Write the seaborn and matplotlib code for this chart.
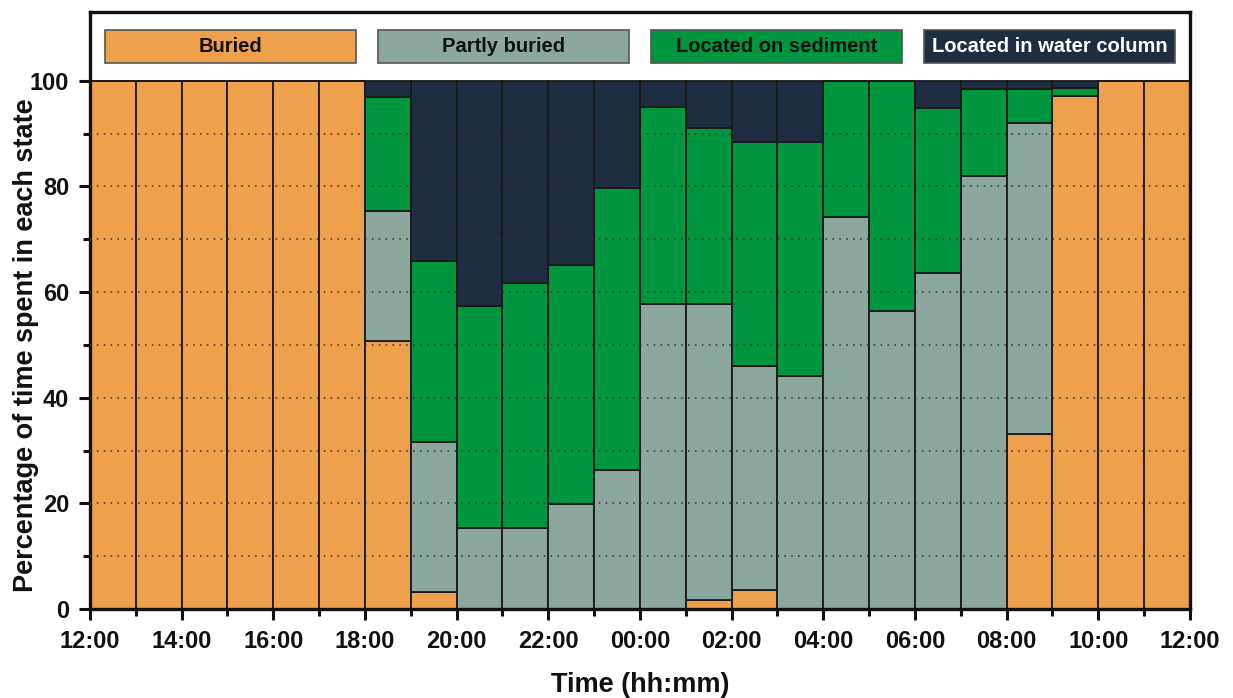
import numpy as np
import pandas as pd
import matplotlib
matplotlib.use("Agg")
import matplotlib.pyplot as plt
from matplotlib.patches import Rectangle
from matplotlib.ticker import MultipleLocator, FixedLocator
import seaborn as sns

# Hourly time budget, one bar per hour starting at 12:00
hours = list(range(24))
hour_labels = ["12:00", "14:00", "16:00", "18:00", "20:00", "22:00", "00:00",
               "02:00", "04:00", "06:00", "08:00", "10:00", "12:00"]

buried = [100, 100, 100, 100, 100, 100, 50.8, 3.2, 0, 0, 0, 0,
          0, 1.7, 3.6, 0, 0, 0, 0, 0, 33.2, 97.2, 100, 100]
partly_buried = [0, 0, 0, 0, 0, 0, 24.6, 28.5, 15.3, 15.3, 19.9, 26.3,
                 57.8, 56.1, 42.5, 44.1, 74.2, 56.5, 63.6, 82.0, 58.8, 0, 0, 0]
on_sediment = [0, 0, 0, 0, 0, 0, 21.5, 34.2, 42.1, 46.5, 45.3, 53.5,
               37.3, 33.3, 42.3, 44.3, 25.8, 43.5, 31.3, 16.5, 6.5, 1.4, 0, 0]
water_column = [0, 0, 0, 0, 0, 0, 3.1, 34.1, 42.6, 38.2, 34.8, 20.2,
                4.9, 8.9, 11.6, 11.6, 0, 0, 5.1, 1.5, 1.5, 1.4, 0, 0]

states = ["Buried", "Partly buried", "Located on sediment", "Located in water column"]
colors = ["#EEA04C", "#8CA79E", "#00953F", "#1E2D40"]
text_colors = ["#111111", "#111111", "#111111", "#FFFFFF"]

df = pd.concat([
    pd.DataFrame({"hour": [h + 0.5 for h in hours], "state": s, "pct": v})
    for s, v in zip(states, [buried, partly_buried, on_sediment, water_column])
], ignore_index=True)

sns.set_theme(style="ticks")
plt.rcParams["font.family"] = ["Liberation Sans", "DejaVu Sans"]
plt.rcParams["font.weight"] = "bold"

fig = plt.figure(figsize=(12.33, 6.98), dpi=100)
ax = fig.add_axes([0.073, 0.1275, 0.892, 0.855])

sns.histplot(
    data=df, x="hour", weights="pct", hue="state",
    hue_order=states[::-1], palette=dict(zip(states, colors)),
    multiple="stack", binwidth=1, binrange=(0, 24), element="bars",
    alpha=1, edgecolor="#1a1a1a", linewidth=1.3, legend=False, ax=ax,
)

ax.set_xlim(0, 24)
ax.set_ylim(0, 113)

# Dotted reference lines drawn over the bars
for y in range(10, 100, 10):
    ax.axhline(y, color="#333333", lw=1.1, ls=(0, (1, 3.5)), zorder=5)

ax.yaxis.set_major_locator(FixedLocator([0, 20, 40, 60, 80, 100]))
ax.yaxis.set_minor_locator(FixedLocator([10, 30, 50, 70, 90]))
ax.set_xticks(np.arange(0, 25, 2))
ax.set_xticklabels(hour_labels)
ax.xaxis.set_minor_locator(MultipleLocator(1))

ax.tick_params(axis="both", which="major", length=8, width=2.2,
               labelsize=17, color="#111111", labelcolor="#111111", pad=7)
ax.tick_params(axis="both", which="minor", length=5, width=2.2, color="#111111")
for lab in ax.get_xticklabels() + ax.get_yticklabels():
    lab.set_fontweight("bold")

for sp in ax.spines.values():
    sp.set_visible(True)
    sp.set_linewidth(2.4)
    sp.set_color("#111111")

ax.set_xlabel("Time (hh:mm)", fontsize=19.5, fontweight="bold", color="#111111")
ax.set_ylabel("Percentage of time spent in each state", fontsize=19.5,
              fontweight="bold", color="#111111")
ax.xaxis.set_label_coords(0.5, -0.105)
ax.yaxis.set_label_coords(-0.046, 50 / 113)

# Legend boxes across the top band of the axes
box_x = [0.0136, 0.2618, 0.5100, 0.7582]
box_w = 0.2282
trans = ax.get_yaxis_transform()
for x0, label, fc, tc in zip(box_x, states, colors, text_colors):
    ax.add_patch(Rectangle((x0, 103.4), box_w, 6.3, transform=trans,
                           facecolor=fc, edgecolor="#555555", lw=1.2, zorder=6,
                           clip_on=False))
    ax.text(x0 + box_w / 2, 106.55, label, transform=trans,
            ha="center", va="center", fontsize=14.5, fontweight="bold",
            color=tc, zorder=7)

fig.savefig("out.png", dpi=100, facecolor="white")
